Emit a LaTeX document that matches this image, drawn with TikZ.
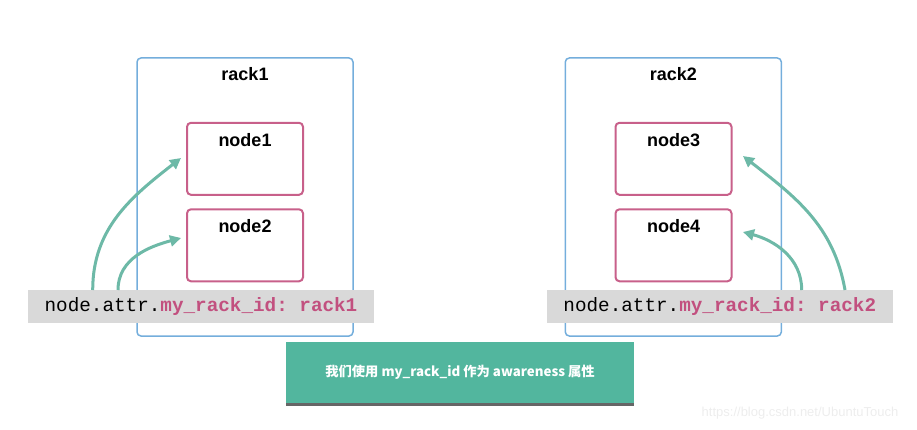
\documentclass[tikz,border=0pt]{standalone}
\usepackage{fontspec}
\setmainfont{Liberation Sans}
\setmonofont{Liberation Mono}
\newfontfamily\cjk{Noto Sans CJK SC}
\usetikzlibrary{arrows.meta,shadows}
\definecolor{rackblue}{HTML}{74AEDC}
\definecolor{nodepink}{HTML}{C8608A}
\definecolor{idpink}{HTML}{C2507F}
\definecolor{barfill}{HTML}{D9D9D9}
\definecolor{teal}{HTML}{6DB9A7}
\definecolor{greenbox}{HTML}{52B69E}
\tikzset{
  rackbox/.style={draw=rackblue, line width=1.5pt, rounded corners=4pt, minimum width=216pt, minimum height=278pt, inner sep=0pt},
  nodebox/.style={draw=nodepink, line width=2pt, rounded corners=4pt, minimum width=116pt, minimum height=72pt, inner sep=0pt},
  boxlabel/.style={font=\fontsize{18}{20}\selectfont\bfseries},
  attrbar/.style={fill=barfill, minimum width=346pt, minimum height=33pt, inner sep=0pt, font=\fontsize{19.3}{22}\selectfont\ttfamily},
  flow/.style={draw=teal, line width=3pt, -{Triangle[length=11pt,width=11pt]}},
}
\begin{document}
\begin{tikzpicture}[x=1pt,y=-1pt]
\useasboundingbox (0,0) rectangle (917,430);
% racks
\node[rackbox, label={[boxlabel,anchor=center,yshift=-17pt]north:rack1}] (rack1) at (245,197) {};
\node[rackbox, label={[boxlabel,anchor=center,yshift=-17pt]north:rack2}] (rack2) at (673.3,197) {};
% nodes
\node[nodebox, label={[boxlabel,anchor=center,yshift=-18pt]north:node1}] (node1) at (245,158.8) {};
\node[nodebox, label={[boxlabel,anchor=center,yshift=-18pt]north:node2}] (node2) at (245,245.3) {};
\node[nodebox, label={[boxlabel,anchor=center,yshift=-18pt]north:node3}] (node3) at (673.5,158.8) {};
\node[nodebox, label={[boxlabel,anchor=center,yshift=-18pt]north:node4}] (node4) at (673.5,245.3) {};
% attribute bars
\node[attrbar] (bar1) at (201,306.5) {node.attr.\textcolor{idpink}{\bfseries my\_rack\_id: rack1}};
\node[attrbar] (bar2) at (719.8,306.5) {node.attr.\textcolor{idpink}{\bfseries my\_rack\_id: rack2}};
% arrow endpoints
\coordinate (s1) at (92.7,290);
\coordinate (s2) at (118,290);
\coordinate (e1) at (181,158);
\coordinate (e2) at (181,238);
\coordinate (s3) at (845,290);
\coordinate (s4) at (801.7,290);
\coordinate (e3) at (743,156);
\coordinate (e4) at (743,232);
\draw[flow] (s1) to[out=90,in=218] (e1);
\draw[flow] (s2) to[out=90,in=195] (e2);
\draw[flow] (s3) to[out=100,in=-38] (e3);
\draw[flow] (s4) to[out=90,in=-15] (e4);
% note
\node[fill=greenbox, minimum width=348pt, minimum height=61.6pt, inner sep=0pt,
      drop shadow={shadow xshift=0pt, shadow yshift=-3pt, fill=black!60, opacity=1},
      text=white, font=\cjk\fontsize{13.3}{15}\selectfont\bfseries] (note) at (460,372.5)
      {我们使用 my\_rack\_id 作为 awareness 属性};
% watermark
\node[text=black!7, font=\fontsize{13}{15}\selectfont] (wm) at (800,412.7) {https://blog.csdn.net/UbuntuTouch};
\end{tikzpicture}
\end{document}
